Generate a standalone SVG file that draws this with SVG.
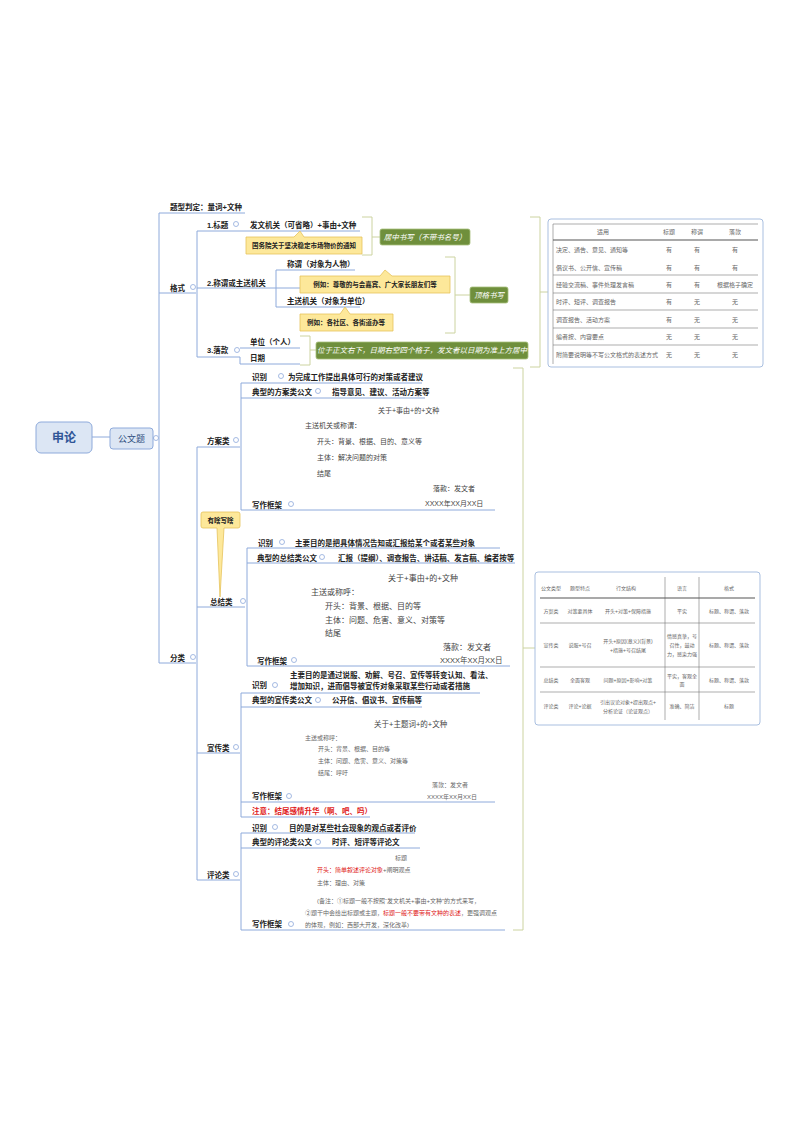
<svg xmlns="http://www.w3.org/2000/svg" width="800" height="1132" viewBox="0 0 800 1132">
<style>
text{font-family:"Liberation Sans","Noto Sans CJK SC",sans-serif;fill:#222}
.n{font-size:7.5px;font-weight:bold}
.s{font-size:7px;fill:#444}
.t{font-size:6px;fill:#666}
.u{font-size:5px;fill:#666}
.r{fill:#e02020}
.g{font-size:7.5px;fill:#fff;font-style:italic}
.ln{fill:none;stroke:#8eaadb;stroke-width:1}
.br{fill:none;stroke:#ccd3a0;stroke-width:1}
.dot{fill:#fff;stroke:#8eaadb;stroke-width:0.8}
.cb{fill:#fde89a;stroke:#e6c35c;stroke-width:0.8}
.gb{fill:#6f8f3c;stroke:#a7bf7c;stroke-width:0.8}
.tb{fill:#fff;stroke:#a9bfe0;stroke-width:1}
.tl{stroke:#777;stroke-width:0.6}
.tk{stroke:#555;stroke-width:1.2}
</style>
<rect width="800" height="1132" fill="#fff"/>
<g id="connectors">
<path class="ln" d="M92 437H110 M153 438H159 M245 213H159V663H196 M159 293H196 M197 231V357 M197 231H240 M197 288H320 M197 357H240 M240 231H360 M276 270V307 M276 270H355 M276 307H360 M240 357V364 M240 348H300 M240 364H300 M197 447V880 M197 447H240 M197 607H245 M197 753H240 M197 880H240"/>
<path class="ln" d="M241 383V510 M241 383H422 M241 398H425 M241 510H495"/>
<path class="ln" d="M247 548V666 M247 548H500 M247 563H515 M247 666H510"/>
<path class="ln" d="M241 693V817 M241 693H480 M241 707H422 M241 802H495 M241 817H370"/>
<path class="ln" d="M241 833V930 M241 833H415 M241 848H420 M241 930H505"/>
<path class="br" d="M362 217H372V255H362 M372 237H380 M445 257H455V333H445 M455 295H470 M300 336H310V365H300 M310 350H316 M530 217H540V367H530 M540 292H548 M513 368H523V930H513 M523 648H535"/>
<circle class="dot" cx="156" cy="438" r="2.5"/><circle class="dot" cx="193" cy="287" r="2.5"/><circle class="dot" cx="193" cy="657" r="2.5"/>
<circle class="dot" cx="236" cy="224" r="2.5"/><circle class="dot" cx="312" cy="282" r="2.5"/><circle class="dot" cx="237" cy="350" r="2.5"/>
<circle class="dot" cx="236" cy="440" r="2.5"/><circle class="dot" cx="243" cy="601" r="2.5"/><circle class="dot" cx="236" cy="747" r="2.5"/><circle class="dot" cx="236" cy="874" r="2.5"/>
<circle class="dot" cx="281" cy="376" r="2.5"/><circle class="dot" cx="318" cy="391" r="2.5"/><circle class="dot" cx="291" cy="504" r="2.5"/>
<circle class="dot" cx="282" cy="542" r="2.5"/><circle class="dot" cx="322" cy="557" r="2.5"/><circle class="dot" cx="294" cy="660" r="2.5"/>
<circle class="dot" cx="275" cy="685" r="2.5"/><circle class="dot" cx="318" cy="700" r="2.5"/><circle class="dot" cx="289" cy="796" r="2.5"/>
<circle class="dot" cx="275" cy="827" r="2.5"/><circle class="dot" cx="318" cy="842" r="2.5"/><circle class="dot" cx="291" cy="924" r="2.5"/>
</g>
<g id="root"><rect x="36" y="422" width="56" height="31" rx="5" fill="#dce6f4" stroke="#8eaadb"/><text x="64" y="442" text-anchor="middle" style="font-size:12px;font-weight:bold;fill:#2f5597">申论</text></g>
<g id="gwt"><rect x="110" y="428" width="43" height="21" rx="3" fill="#dce6f4" stroke="#8eaadb"/><text x="131.5" y="442" text-anchor="middle" style="font-size:9px;fill:#2f4f7f">公文题</text></g>
<g id="n-judge"><text class="n" x="170" y="210">题型判定：量词+文种</text></g>
<g id="n-format"><text class="n" x="170" y="291">格式</text></g>
<g id="n-class"><text class="n" x="170" y="661">分类</text></g>
<g id="n-title"><text class="n" x="207" y="228">1.标题</text><text class="n" x="250" y="228">发文机关（可省略）+事由+文种</text>
<path class="cb" d="M246 237H294L300 231L304 237H362V254H246Z"/><text class="n" x="304" y="248" text-anchor="middle" style="font-size:6.5px">国务院关于坚决稳定市场物价的通知</text>
<rect class="gb" x="380" y="229" width="90" height="16" rx="2"/><text class="g" x="425" y="240" text-anchor="middle">居中书写（不带书名号）</text></g>
<g id="n-call"><text class="n" x="207" y="286">2.称谓或主送机关</text><text class="n" x="287" y="267">称谓（对象为人物）</text><text class="n" x="287" y="304">主送机关（对象为单位）</text>
<path class="cb" d="M300 276H380L385 270L392 276H450V293H300Z"/><text class="n" x="375" y="287" text-anchor="middle" style="font-size:6.5px">例如：尊敬的与会嘉宾、广大家长朋友们等</text>
<path class="cb" d="M300 314H340L345 307L350 314H393V331H300Z"/><text class="n" x="346" y="325" text-anchor="middle" style="font-size:6.5px">例如：各社区、各街道办等</text>
<rect class="gb" x="470" y="287" width="38" height="16" rx="2"/><text class="g" x="489" y="298" text-anchor="middle">顶格书写</text></g>
<g id="n-sign"><text class="n" x="207" y="353">3.落款</text><text class="n" x="250" y="345">单位（个人）</text><text class="n" x="250" y="361">日期</text>
<rect class="gb" x="316" y="342" width="212" height="17" rx="2"/><text class="g" x="422" y="353" text-anchor="middle">位于正文右下，日期右空四个格子，发文者以日期为准上方居中</text></g>
<g id="table1"><rect class="tb" x="548" y="219" width="215" height="148" rx="3"/>
<line class="tl" x1="553" y1="224" x2="553" y2="364"/><line class="tl" x1="553" y1="224" x2="758" y2="224"/><line class="tk" x1="553" y1="240" x2="758" y2="240"/>
<line class="tl" x1="553" y1="275" x2="758" y2="275"/><line class="tl" x1="553" y1="293" x2="758" y2="293"/><line class="tl" x1="553" y1="310" x2="758" y2="310"/><line class="tl" x1="553" y1="328" x2="758" y2="328"/><line class="tl" x1="553" y1="345" x2="758" y2="345"/>
<text x="603" y="234" text-anchor="middle" class="t">适用</text><text x="669" y="234" text-anchor="middle" class="t">标题</text><text x="697" y="234" text-anchor="middle" class="t">称谓</text><text x="735" y="234" text-anchor="middle" class="t">落款</text>
<text x="556" y="252" class="t">决定、通告、意见、通知等</text><text x="669" y="252" text-anchor="middle" class="t">有</text><text x="697" y="252" text-anchor="middle" class="t">有</text><text x="735" y="252" text-anchor="middle" class="t">有</text>
<text x="556" y="270" class="t">倡议书、公开信、宣传稿</text><text x="669" y="270" text-anchor="middle" class="t">有</text><text x="697" y="270" text-anchor="middle" class="t">有</text><text x="735" y="270" text-anchor="middle" class="t">有</text>
<text x="556" y="287" class="t">经验交流稿、事件处理发言稿</text><text x="669" y="287" text-anchor="middle" class="t">有</text><text x="697" y="287" text-anchor="middle" class="t">有</text><text x="735" y="287" text-anchor="middle" class="t">根据格子确定</text>
<text x="556" y="304" class="t">时评、短评、调查报告</text><text x="669" y="304" text-anchor="middle" class="t">有</text><text x="697" y="304" text-anchor="middle" class="t">无</text><text x="735" y="304" text-anchor="middle" class="t">无</text>
<text x="556" y="322" class="t">调查报告、活动方案</text><text x="669" y="322" text-anchor="middle" class="t">有</text><text x="697" y="322" text-anchor="middle" class="t">无</text><text x="735" y="322" text-anchor="middle" class="t">无</text>
<text x="556" y="339" class="t">编者按、内容要点</text><text x="669" y="339" text-anchor="middle" class="t">无</text><text x="697" y="339" text-anchor="middle" class="t">无</text><text x="735" y="339" text-anchor="middle" class="t">无</text>
<text x="556" y="357" class="t">附简要说明等不写公文格式的表述方式</text><text x="669" y="357" text-anchor="middle" class="t">无</text><text x="697" y="357" text-anchor="middle" class="t">无</text><text x="735" y="357" text-anchor="middle" class="t">无</text></g>
<g id="n-fangan"><text class="n" x="207" y="444">方案类</text>
<text class="n" x="252" y="380">识别</text><text class="n" x="288" y="380">为完成工作提出具体可行的对策或者建议</text>
<text class="n" x="252" y="395">典型的方案类公文</text><text class="n" x="332" y="395">指导意见、建议、活动方案等</text>
<text class="s" x="378" y="413">关于+事由+的+文种</text><text class="s" x="305" y="428">主送机关或称谓：</text><text class="s" x="317" y="444">开头：背景、根据、目的、意义等</text><text class="s" x="317" y="460">主体：解决问题的对策</text><text class="s" x="317" y="476">结尾</text><text class="s" x="433" y="491">落款：发文者</text><text class="s" x="425" y="506">XXXX年XX月XX日</text>
<text class="n" x="252" y="508">写作框架</text></g>
<g id="n-zongjie"><text class="n" x="210" y="605">总结类</text>
<path class="cb" d="M203 512H238Q240 512 240 514V526Q240 528 238 528H224L220 597L217 528H203Q201 528 201 526V514Q201 512 203 512Z"/><text class="n" x="220.5" y="523" text-anchor="middle" style="font-size:6.5px">有啥写啥</text>
<text class="n" x="258" y="546">识别</text><text class="n" x="295" y="546">主要目的是把具体情况告知或汇报给某个或者某些对象</text>
<text class="n" x="257" y="561">典型的总结类公文</text><text class="n" x="338" y="561">汇报（提纲）、调查报告、讲话稿、发言稿、编者按等</text>
<text class="s" x="388" y="581" style="font-size:8px">关于+事由+的+文种</text><text class="s" x="311" y="595" style="font-size:8px">主送或称呼：</text><text class="s" x="325" y="609" style="font-size:8px">开头：背景、根据、目的等</text><text class="s" x="325" y="623" style="font-size:8px">主体：问题、危害、意义、对策等</text><text class="s" x="325" y="636" style="font-size:8px">结尾</text><text class="s" x="443" y="650" style="font-size:8px">落款：发文者</text><text class="s" x="440" y="663" style="font-size:7.5px">XXXX年XX月XX日</text>
<text class="n" x="257" y="664">写作框架</text></g>
<g id="n-xuanchuan"><text class="n" x="207" y="751">宣传类</text>
<text class="n" x="252" y="688">识别</text><text class="n" x="290" y="678">主要目的是通过说服、劝解、号召、宣传等转变认知、看法、</text><text class="n" x="290" y="689">增加知识，进而倡导被宣传对象采取某些行动或者措施</text>
<text class="n" x="252" y="703">典型的宣传类公文</text><text class="n" x="332" y="703">公开信、倡议书、宣传稿等</text>
<text class="s" x="374" y="727" style="font-size:7.5px">关于+主题词+的+文种</text><text class="t" x="305" y="740">主送或称呼：</text><text class="t" x="318" y="751">开头：背景、根据、目的等</text><text class="t" x="318" y="763">主体：问题、危害、意义、对策等</text><text class="t" x="318" y="775">结尾：呼吁</text><text class="t" x="432" y="787">落款：发文者</text><text class="t" x="427" y="799">XXXX年XX月XX日</text>
<text class="n" x="252" y="799">写作框架</text>
<text class="n r" x="252" y="814">注意：结尾感情升华（啊、吧、吗）</text></g>
<g id="n-pinglun"><text class="n" x="207" y="878">评论类</text>
<text class="n" x="252" y="831">识别</text><text class="n" x="289" y="831">目的是对某些社会现象的观点或者评价</text>
<text class="n" x="252" y="845">典型的评论类公文</text><text class="n" x="332" y="845">时评、短评等评论文</text>
<text class="t" x="395" y="860">标题</text><text class="t" x="317" y="872"><tspan class="r">开头：简单叙述评论对象</tspan>+阐明观点</text><text class="t" x="317" y="885">主体：理由、对策</text>
<text class="t" x="317" y="903">(备注：①标题一般不按照“发文机关+事由+文种”的方式来写，</text><text class="t" x="305" y="915">②题干中会给出标题或主题，<tspan class="r">标题一般不要带有文种的表述</tspan>，更强调观点</text><text class="t" x="305" y="927">的体现，例如：西部大开发，深化改革)</text>
<text class="n" x="252" y="927">写作框架</text></g>
<g id="table2"><rect class="tb" x="535" y="572" width="225" height="153" rx="3"/>
<line class="tl" x1="665" y1="577" x2="665" y2="720"/><line class="tl" x1="699" y1="577" x2="699" y2="720"/>
<line class="tk" x1="540" y1="598" x2="755" y2="598"/><line class="tl" x1="540" y1="623" x2="755" y2="623"/><line class="tl" x1="540" y1="667" x2="755" y2="667"/><line class="tl" x1="540" y1="692" x2="755" y2="692"/>
<text class="u" x="551" y="590" text-anchor="middle">公文类型</text><text class="u" x="580" y="590" text-anchor="middle">题型特点</text><text class="u" x="626" y="590" text-anchor="middle">行文结构</text><text class="u" x="682" y="590" text-anchor="middle">语言</text><text class="u" x="729" y="590" text-anchor="middle">格式</text>
<text class="u" x="551" y="613" text-anchor="middle">方案类</text><text class="u" x="580" y="613" text-anchor="middle">对策要具体</text><text class="u" x="628" y="613" text-anchor="middle">开头+对策+保障措施</text><text class="u" x="682" y="613" text-anchor="middle">平实</text><text class="u" x="729" y="613" text-anchor="middle">标题、称谓、落款</text>
<text class="u" x="551" y="647" text-anchor="middle">宣传类</text><text class="u" x="580" y="647" text-anchor="middle">说服+号召</text><text class="u" x="628" y="643" text-anchor="middle">开头+原因(意义)(背景)</text><text class="u" x="628" y="652" text-anchor="middle">+措施+号召结尾</text><text class="u" x="682" y="638" text-anchor="middle">情感真挚，号</text><text class="u" x="682" y="647" text-anchor="middle">召性，鼓动</text><text class="u" x="682" y="656" text-anchor="middle">力，感染力强</text><text class="u" x="729" y="647" text-anchor="middle">标题、称谓、落款</text>
<text class="u" x="551" y="682" text-anchor="middle">总结类</text><text class="u" x="580" y="682" text-anchor="middle">全面客观</text><text class="u" x="628" y="682" text-anchor="middle">问题+原因+影响+对策</text><text class="u" x="682" y="678" text-anchor="middle">平实，客观全</text><text class="u" x="682" y="686" text-anchor="middle">面</text><text class="u" x="729" y="682" text-anchor="middle">标题、称谓、落款</text>
<text class="u" x="551" y="708" text-anchor="middle">评论类</text><text class="u" x="580" y="708" text-anchor="middle">评论+论据</text><text class="u" x="628" y="704" text-anchor="middle">引出议论对象+提出观点+</text><text class="u" x="628" y="713" text-anchor="middle">分析论证（论证观点）</text><text class="u" x="682" y="708" text-anchor="middle">准确、简洁</text><text class="u" x="729" y="708" text-anchor="middle">标题</text></g>
</svg>
